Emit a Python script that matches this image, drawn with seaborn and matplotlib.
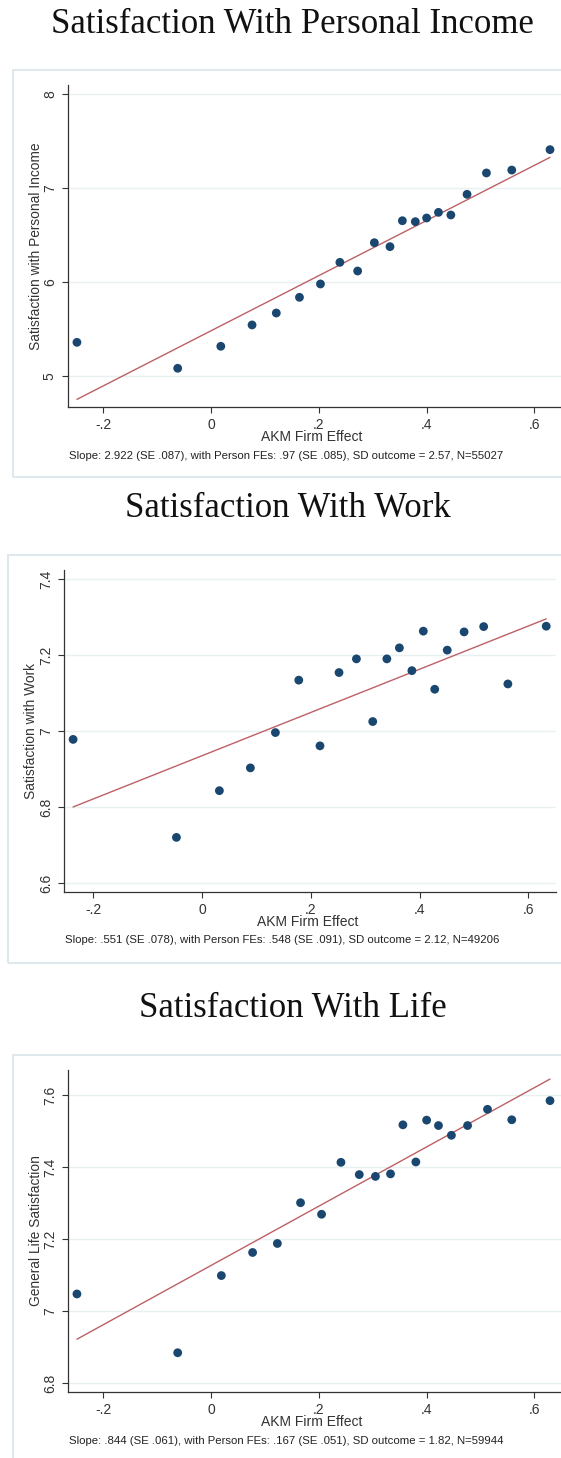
import numpy as np
import pandas as pd
import matplotlib
matplotlib.use("Agg")
import matplotlib.pyplot as plt
import seaborn as sns
from matplotlib.patches import Rectangle

# binned AKM firm effect (x) and mean outcome (y) for the three panels
income_x = [-0.249, -0.062, 0.018, 0.076, 0.121, 0.164, 0.203, 0.239, 0.272, 0.303,
            0.332, 0.355, 0.379, 0.400, 0.422, 0.445, 0.475, 0.511, 0.558, 0.629]
income_y = [5.358, 5.082, 5.316, 5.543, 5.670, 5.837, 5.979, 6.209, 6.117, 6.418,
            6.376, 6.652, 6.642, 6.681, 6.741, 6.713, 6.933, 7.160, 7.191, 7.408]

work_x = [-0.237, -0.047, 0.032, 0.089, 0.135, 0.178, 0.217, 0.252, 0.284, 0.314,
          0.340, 0.363, 0.386, 0.407, 0.428, 0.451, 0.482, 0.518, 0.5625, 0.633]
work_y = [6.978, 6.720, 6.843, 6.903, 6.996, 7.134, 6.961, 7.154, 7.190, 7.025,
          7.190, 7.219, 7.159, 7.263, 7.110, 7.213, 7.261, 7.275, 7.124, 7.276]

life_x = [-0.249, -0.062, 0.019, 0.077, 0.123, 0.166, 0.205, 0.241, 0.275, 0.305,
          0.333, 0.356, 0.380, 0.400, 0.422, 0.446, 0.476, 0.513, 0.558, 0.629]
life_y = [7.048, 6.885, 7.099, 7.163, 7.188, 7.301, 7.269, 7.413, 7.379, 7.374,
          7.381, 7.517, 7.414, 7.530, 7.515, 7.488, 7.515, 7.560, 7.531, 7.584]

titles = ["Satisfaction With Personal Income", "Satisfaction With Work", "Satisfaction With Life"]
ylabels = ["Satisfaction with Personal Income", "Satisfaction with Work", "General Life Satisfaction"]
notes = [
    "Slope: 2.922 (SE .087), with Person FEs: .97 (SE .085), SD outcome = 2.57, N=55027",
    "Slope: .551 (SE .078), with Person FEs: .548 (SE .091), SD outcome = 2.12, N=49206",
    "Slope: .844 (SE .061), with Person FEs: .167 (SE .051), SD outcome = 1.82, N=59944",
]
xticks = [-0.2, 0, 0.2, 0.4, 0.6]
xticklabels = ["-.2", "0", ".2", ".4", ".6"]
yticks = [[5, 6, 7, 8], [6.6, 6.8, 7.0, 7.2, 7.4], [6.8, 7.0, 7.2, 7.4, 7.6]]
yticklabels = [["5", "6", "7", "8"], ["6.6", "6.8", "7", "7.2", "7.4"],
               ["6.8", "7", "7.2", "7.4", "7.6"]]

sns.set_style("white")
plt.rcParams["font.family"] = ["Liberation Sans", "DejaVu Sans"]

W, H = 561, 1458
fig = plt.figure(figsize=(W / 100, H / 100), dpi=100)
fig.patch.set_facecolor("white")

def fx(x):
    return x / W

def fy(y):
    return 1 - y / H

# pixel layout: axes (left, right, top, bottom), frame (left, top, bottom), title (x, baseline),
# xlabel (x, y), note (x, y), ylabel x, xlim, ylim
layout = [
    dict(ax=(68, 561, 85, 407), frame=(12.5, 70, 477), title=(292, 33), xl=(311.6, 437),
         note=(286.6, 456), yl=36, xlim=(-0.2656, 0.6494), ylim=(4.67, 8.096)),
    dict(ax=(64.4, 556, 570, 891.7), frame=(8, 555, 963), title=(288, 517), xl=(307.7, 922),
         note=(282.6, 940), yl=31.5, xlim=(-0.253, 0.651), ylim=(6.577, 7.424)),
    dict(ax=(68, 561, 1070, 1391.7), frame=(12.5, 1055, 1470), title=(293, 1017), xl=(311.6, 1422),
         note=(286.6, 1441), yl=35.8, xlim=(-0.2656, 0.6494), ylim=(6.777, 7.669)),
]

datasets = [(income_x, income_y), (work_x, work_y), (life_x, life_y)]

for i, (xs, ys) in enumerate(datasets):
    L = layout[i]
    l, r, t, b = L["ax"]
    fl, ft, fb = L["frame"]
    fig.patches.append(Rectangle((fx(fl), fy(fb)), fx(W + 10) - fx(fl), fy(ft) - fy(fb),
                                 transform=fig.transFigure, fill=False,
                                 edgecolor="#dfe8ec", linewidth=1.5, zorder=0))
    fig.text(fx(L["title"][0]), fy(L["title"][1]), titles[i], ha="center", va="baseline",
             fontsize=25, family=["Liberation Serif", "DejaVu Serif"], color="#111111")

    ax = fig.add_axes([fx(l), fy(b), fx(r) - fx(l), fy(t) - fy(b)])
    df = pd.DataFrame({"x": xs, "y": ys})
    sns.regplot(data=df, x="x", y="y", ax=ax, ci=None,
                scatter_kws=dict(s=40, color="#1a476f", edgecolor="none", alpha=1, zorder=3),
                line_kws=dict(color="#bd6065", lw=1.0, zorder=2))
    ax.set_xlim(*L["xlim"])
    ax.set_ylim(*L["ylim"])
    ax.set_xticks(xticks)
    ax.set_xticklabels(xticklabels)
    ax.set_yticks(yticks[i])
    ax.set_yticklabels(yticklabels[i], rotation=90, va="center")
    ax.tick_params(axis="both", direction="out", length=4, width=0.8, color="#333333",
                   labelsize=10, labelcolor="#333333", pad=4, left=True, bottom=True)
    ax.grid(axis="y", color="#e8f0f2", lw=1.0)
    ax.set_axisbelow(True)
    for side in ["top", "right"]:
        ax.spines[side].set_visible(False)
    for side in ["left", "bottom"]:
        ax.spines[side].set_color("#333333")
        ax.spines[side].set_linewidth(0.9)
    ax.set_xlabel("")
    ax.set_ylabel("")
    fig.text(fx(L["xl"][0]), fy(L["xl"][1]), "AKM Firm Effect", ha="center", va="center",
             fontsize=10, color="#333333")
    fig.text(fx(L["yl"]), fy((t + b) / 2), ylabels[i], ha="center", va="center",
             rotation=90, fontsize=9.9, color="#333333")
    fig.text(fx(L["note"][0]), fy(L["note"][1]), notes[i], ha="center", va="center",
             fontsize=8.2, color="#222222")

fig.savefig("out.png", dpi=100)
